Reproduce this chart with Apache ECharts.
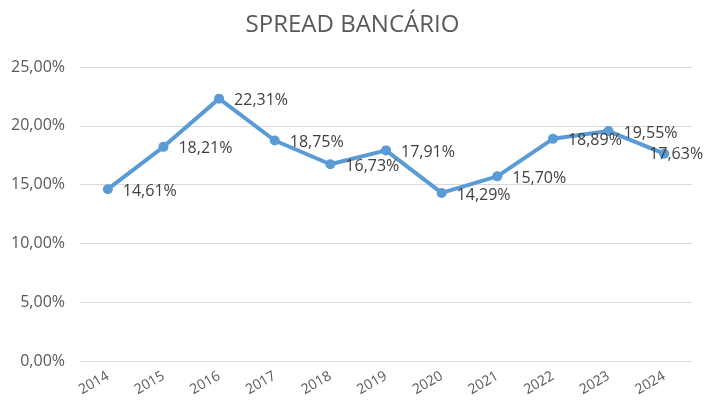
<!DOCTYPE html>
<html>
<head>
<meta charset="utf-8">
<script src="https://cdn.jsdelivr.net/npm/echarts@6/dist/echarts.min.js"></script>
<style>
    html, body { margin: 0; padding: 0; background: #fff; }
    #chart { width: 705px; height: 406px; }
</style>
</head>
<body>
<div id="chart"></div>
<script>
    // dados
    var anos = ['2014', '2015', '2016', '2017', '2018', '2019', '2020', '2021', '2022', '2023', '2024'];
    var spread = [14.61, 18.21, 22.31, 18.75, 16.73, 17.91, 14.29, 15.70, 18.89, 19.55, 17.63];

    function pct(v) {
        return v.toFixed(2).replace('.', ',') + '%';
    }

    // o último rótulo fica por cima do ponto (como no original)
    var pontos = spread.map(function (v, i) {
        if (i === spread.length - 1) {
            return { value: v, label: { offset: [-30, 1] } };
        }
        return v;
    });

    var chart = echarts.init(document.getElementById('chart'));
    var fonte = '"Open Sans", "Noto Sans", sans-serif';
    chart.setOption({
        animation: false,
        textStyle: { fontFamily: fonte },
        title: {
            text: 'SPREAD BANCÁRIO',
            left: 'center',
            top: 8,
            textStyle: { fontSize: 24, fontWeight: 'normal', color: '#595959', fontFamily: fonte }
        },
        grid: { left: 80, right: 13, top: 67, bottom: 45 },
        xAxis: {
            type: 'category',
            data: anos,
            boundaryGap: true,
            axisLine: { show: false },
            axisTick: { show: false },
            axisLabel: { rotate: 30, color: '#595959', fontSize: 14, margin: 14, fontFamily: fonte }
        },
        yAxis: {
            type: 'value',
            min: 0,
            max: 25,
            interval: 5,
            axisLine: { show: false },
            axisTick: { show: false },
            splitLine: { lineStyle: { color: '#d9d9d9', width: 1 } },
            axisLabel: {
                color: '#595959',
                fontSize: 16,
                margin: 15,
                fontFamily: fonte,
                formatter: function (v) { return pct(v); }
            }
        },
        series: [{
            type: 'line',
            data: pontos,
            symbol: 'circle',
            symbolSize: 10,
            lineStyle: { color: '#5b9bd5', width: 4 },
            itemStyle: { color: '#5b9bd5' },
            label: {
                show: true,
                position: 'right',
                distance: 10,
                offset: [0, 2],
                color: '#404040',
                fontSize: 16,
                fontFamily: fonte,
                formatter: function (p) { return pct(p.value); }
            }
        }]
    });
</script>
</body>
</html>
